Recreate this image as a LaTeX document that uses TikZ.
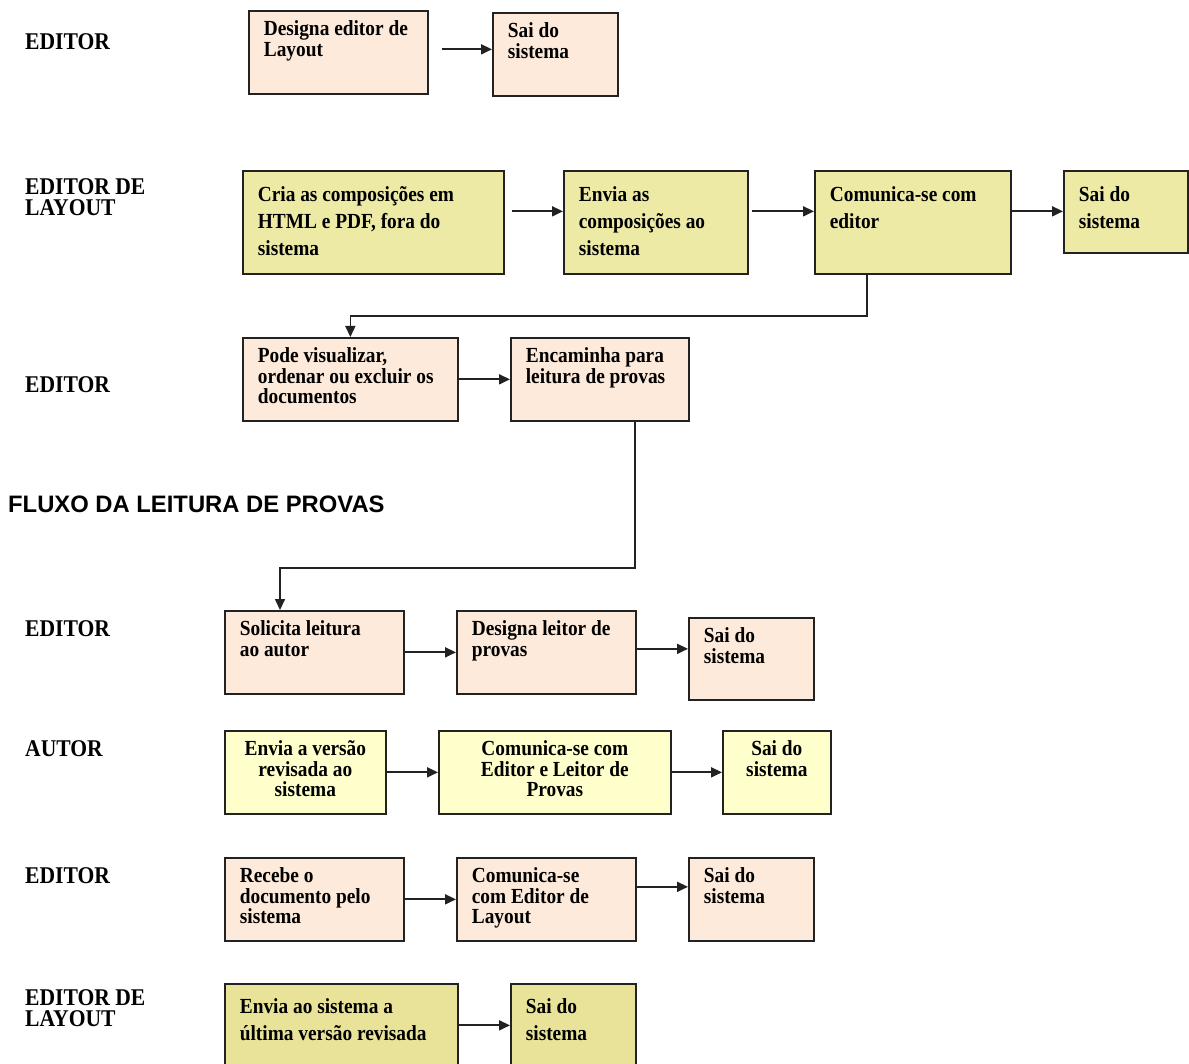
\documentclass[tikz,border=0pt]{standalone}
\usepackage{fontspec}
\setmainfont{Liberation Serif}
\newfontfamily\bxfont[FakeStretch=0.9]{Liberation Serif}
\newfontfamily\lbfont[FakeStretch=0.9]{Liberation Serif}
\newfontfamily\hdfont{Liberation Sans}
\usetikzlibrary{arrows.meta}
\definecolor{peach}{HTML}{FDEADA}
\definecolor{olive}{HTML}{EDEAA6}
\definecolor{lyel}{HTML}{FFFFCC}
\definecolor{olivetwo}{HTML}{E8E398}
\definecolor{edge}{HTML}{222222}
% left-aligned box text: width, height, first baseline, line skip, text
\newcommand{\lbx}[5]{\parbox[t][#2pt][t]{#1pt}{\bxfont\bfseries\fontsize{21.5}{#4pt}\selectfont\lineskiplimit=-30pt\relax\raggedright\leftskip=15pt\relax\rule{0pt}{#3pt}#5}}
% centred box text
\newcommand{\cbx}[5]{\parbox[t][#2pt][t]{#1pt}{\bxfont\bfseries\fontsize{21.5}{#4pt}\selectfont\lineskiplimit=-30pt\relax\centering\rule{0pt}{#3pt}#5}}
\newcommand{\labsel}{\lbfont\bfseries\fontsize{24}{21}\selectfont\lineskiplimit=-30pt\relax}
\newcommand{\headsel}{\hdfont\bfseries\fontsize{23.8}{26}\selectfont}
\tikzset{
  box/.style={draw=edge, line width=1.7pt, anchor=north west, inner sep=0pt},
  lab/.style={inner sep=0pt, font=\labsel},
  arr/.style={draw=edge, line width=1.8pt, -{Triangle[length=11pt,width=10pt]}},
  elb/.style={draw=edge, line width=1.6pt, -{Triangle[length=11pt,width=10pt]}},
}
\begin{document}
\begin{tikzpicture}[x=1pt,y=-1pt]
\useasboundingbox (0,0) rectangle (1189,1064);

% labels
\node[lab, anchor=base west] (l1) at (25,50) {EDITOR};
\node[lab, anchor=north west, align=left] (l2) at (25,178.3) {EDITOR DE\\LAYOUT};
\node[lab, anchor=base west] (l3) at (25,393) {EDITOR};
\node[anchor=base west, inner sep=0pt, font=\headsel] (fl) at (8,512) {FLUXO DA LEITURA DE PROVAS};
\node[lab, anchor=base west] (l4) at (25,636) {EDITOR};
\node[lab, anchor=base west] (l5) at (25,756) {AUTOR};
\node[lab, anchor=base west] (l6) at (25,883) {EDITOR};
\node[lab, anchor=north west, align=left] (l7) at (25,989.3) {EDITOR DE\\LAYOUT};

% row 1
\node[box, fill=peach] (a1) at (248,10) {\lbx{179}{83}{25}{20.5}{Designa editor de\\Layout}};
\node[box, fill=peach] (a2) at (492,12) {\lbx{125}{83}{25}{20.5}{Sai do\\sistema}};

% row 2
\node[box, fill=olive] (b1) at (242,170) {\lbx{261}{103}{31}{27}{Cria as composições em\\HTML e PDF, fora do\\sistema}};
\node[box, fill=olive] (b2) at (563,170) {\lbx{184}{103}{31}{27}{Envia as\\composições ao\\sistema}};
\node[box, fill=olive] (b3) at (814,170) {\lbx{196}{103}{31}{27}{Comunica-se com\\editor}};
\node[box, fill=olive] (b4) at (1063,170) {\lbx{124}{82}{31}{27}{Sai do\\sistema}};

% row 3
\node[box, fill=peach] (c1) at (242,337) {\lbx{215}{83}{25}{20.5}{Pode visualizar,\\ordenar ou excluir os\\documentos}};
\node[box, fill=peach] (c2) at (510,337) {\lbx{178}{83}{25}{20.5}{Encaminha para\\leitura de provas}};

% row 4
\node[box, fill=peach] (d1) at (224,610) {\lbx{179}{83}{25}{20.5}{Solicita leitura\\ao autor}};
\node[box, fill=peach] (d2) at (456,610) {\lbx{179}{83}{25}{20.5}{Designa leitor de\\provas}};
\node[box, fill=peach] (d3) at (688,617) {\lbx{125}{82}{25}{20.5}{Sai do\\sistema}};

% row 5
\node[box, fill=lyel] (e1) at (224,730) {\cbx{161}{83}{25}{20.5}{Envia a versão\\revisada ao\\sistema}};
\node[box, fill=lyel] (e2) at (438,730) {\cbx{232}{83}{25}{20.5}{Comunica-se com\\Editor e Leitor de\\Provas}};
\node[box, fill=lyel] (e3) at (722,730) {\cbx{108}{83}{25}{20.5}{Sai do\\sistema}};

% row 6
\node[box, fill=peach] (f1) at (224,857) {\lbx{179}{83}{25}{20.5}{Recebe o\\documento pelo\\sistema}};
\node[box, fill=peach] (f2) at (456,857) {\lbx{179}{83}{25}{20.5}{Comunica-se\\com Editor de\\Layout}};
\node[box, fill=peach] (f3) at (688,857) {\lbx{125}{83}{25}{20.5}{Sai do\\sistema}};

% row 7
\node[box, fill=olivetwo] (g1) at (224,983) {\lbx{233}{83}{30}{27}{Envia ao sistema a\\última versão revisada}};
\node[box, fill=olivetwo] (g2) at (510,983) {\lbx{125}{83}{30}{27}{Sai do\\sistema}};

% arrows
\draw[arr, shorten <=13pt] ([yshift=3pt]a1.east) -- ([yshift=3pt]a1.east -| a2.west);
\draw[arr, shorten <=7pt] ([yshift=11pt]b1.east) -- ([yshift=11pt]b1.east -| b2.west);
\draw[arr, shorten <=3pt] ([yshift=11pt]b2.east) -- ([yshift=11pt]b2.east -| b3.west);
\draw[arr] ([yshift=11pt]b3.east) -- ([yshift=11pt]b3.east -| b4.west);
\draw[arr] (c1.east) -- (c1.east -| c2.west);
\draw[arr] (d1.east) -- (d1.east -| d2.west);
\draw[arr] ([yshift=3.5pt]d2.east) -- ([yshift=3.5pt]d2.east -| d3.west);
\draw[arr] (e1.east) -- (e1.east -| e2.west);
\draw[arr] (e2.east) -- (e2.east -| e3.west);
\draw[arr] (f1.east) -- (f1.east -| f2.west);
\draw[arr] ([yshift=12.5pt]f2.east) -- ([yshift=12.5pt]f2.east -| f3.west);
\draw[arr] (g1.east) -- (g1.east -| g2.west);

% elbow connectors
\coordinate (k1) at (867,316);
\draw[elb] (b3.south -| k1) -- (k1) -| (c1.north);
\coordinate (k2) at (635,568);
\coordinate (k3) at (280,568);
\draw[elb] (c2.south -| k2) -- (k2) -- (k3) -- (d1.north -| k3);
\end{tikzpicture}
\end{document}
